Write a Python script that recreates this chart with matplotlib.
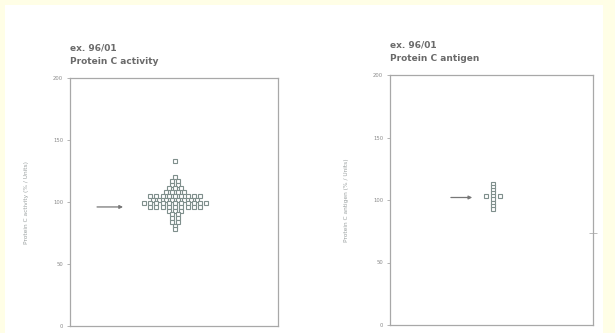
#%% Protein C dot plots (ex. 96/01)
import numpy as np
import matplotlib.pyplot as plt
from matplotlib.patches import Rectangle

#%% Data
activity_values = ([133, 120, 117, 117, 114, 114, 111, 111, 111, 108, 108, 108, 108]
                   + [105] * 9 + [102] * 8 + [99] * 11 + [96] * 9
                   + [93, 93, 93, 90, 90, 87, 87, 84, 84, 81, 78])
antigen_values = [113, 110.5, 108, 105.5, 103, 103, 103, 100.5, 98, 95.5, 93]

activity_target = 96    # arrow, left panel
antigen_target = 102    # arrow, right panel

panel_titles = ['ex. 96/01\nProtein C activity', 'ex. 96/01\nProtein C antigen']
y_labels = ['Protein C activity (% / Units)', 'Protein C antigen (% / Units)']
y_ticks = [0, 50, 100, 150, 200]

#%% Helper: spread points sideways inside value bins (simple beeswarm)
def swarm_x(values, centre, step, bin_width):
    values = np.asarray(values, dtype=float)
    bins = np.round(values / bin_width).astype(int)
    xs = np.zeros(len(values))
    for b in np.unique(bins):
        idx = np.where(bins == b)[0]
        n = len(idx)
        offsets = (np.arange(n) - (n - 1) / 2) * step
        xs[idx] = centre + offsets
    return xs

#%% Figure
fig = plt.figure(figsize=(6.15, 3.33), dpi=100)
fig.patch.set_facecolor('#fffee6')
fig.patches.append(Rectangle((5 / 615, 0), 598 / 615, 328 / 333, transform=fig.transFigure,
                             facecolor='white', edgecolor='none', zorder=-10))

ax1 = fig.add_axes([70 / 615, 7 / 333, 208 / 615, 248 / 333])
ax2 = fig.add_axes([390 / 615, 8 / 333, 203 / 615, 250 / 333])

spine_col = '#a8a8a8'
text_col = '#8a8a8a'
title_col = '#6a6a6a'
mark_col = '#7f8f8c'

panels = [(ax1, activity_values, activity_target, (0.13, 0.255), 0.505, 0.03, 3),
          (ax2, antigen_values, antigen_target, (0.30, 0.405), 0.507, 0.035, 2.5)]

for i, (ax, vals, target, arrow_x, centre, step, bw) in enumerate(panels):
    xs = swarm_x(vals, centre, step, bw)
    ax.plot(xs, vals, 's', ms=3.2, mfc='white', mec=mark_col, mew=0.8, ls='none')

    # reference arrow
    ax.annotate('', xy=(arrow_x[1], target), xytext=(arrow_x[0], target),
                arrowprops=dict(arrowstyle='-|>', color='#777777', lw=0.9,
                                mutation_scale=5, shrinkA=0, shrinkB=0))

    ax.set_xlim(0, 1)
    ax.set_ylim(0, 200)
    ax.set_xticks([])
    ax.set_yticks(y_ticks)
    ax.tick_params(axis='y', length=2, width=0.6, color=spine_col,
                   labelsize=3.8, labelcolor=text_col, pad=3)
    for s in ax.spines.values():
        s.set_color(spine_col)
        s.set_linewidth(0.9)
    ax.set_ylabel(y_labels[i], fontsize=4.2, color='#9aa0a0', labelpad=17)
    ax.set_title(panel_titles[i], loc='left', fontsize=6.5, fontweight='bold',
                 color=title_col, pad=10, linespacing=1.6)

# small stray mark on the right edge of the antigen panel
ax2.plot([1.0], [74], marker='_', ms=6, mew=0.6, color='#b0b0b0', clip_on=False)

plt.savefig('out.png', dpi=100, facecolor=fig.get_facecolor())
